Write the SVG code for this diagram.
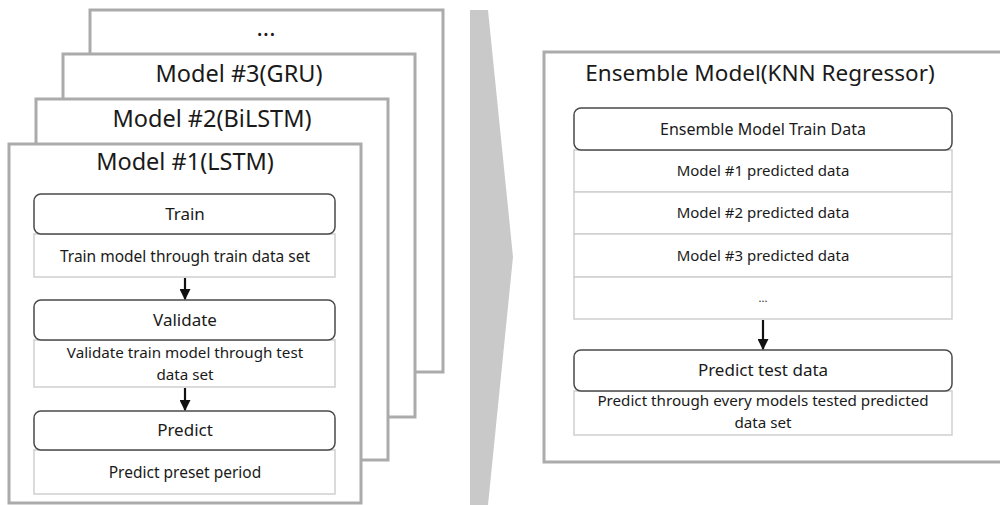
<svg xmlns="http://www.w3.org/2000/svg" width="1000" height="505" viewBox="0 0 1000 505">
<defs>
<style>
.frame{fill:#fff;stroke:#ababab;stroke-width:3}
.hdr{fill:#fff;stroke:#4a4a4a;stroke-width:1.5}
.desc{fill:#fff;stroke:#cfcfcf;stroke-width:1.5}
text{font-family:"Noto Sans","Liberation Sans",sans-serif;fill:#1a1a1a;text-anchor:middle}
.t1{font-size:23.5px}
.th{font-size:17px}
.td{font-size:15.5px}
.t2{font-size:15.2px}
.tr{font-size:15px}
.conn{stroke:#111;stroke-width:2.2;fill:none;marker-end:url(#ah)}
</style>
<marker id="ah" viewBox="0 0 10 10" refX="9" refY="5" markerWidth="5" markerHeight="5" orient="auto" markerUnits="strokeWidth">
<path d="M0,0 L10,5 L0,10 z" fill="#111"/>
</marker>
</defs>
<rect width="1000" height="505" fill="#fff"/>
<polygon points="470,10 488,10 513,257 488,505 470,505" fill="#c9c9c9"/>
<g id="model4">
<rect class="frame" x="90" y="10" width="353" height="362"/>
<text class="t1" x="266" y="36">...</text>
</g>
<g id="model3">
<rect class="frame" x="63" y="54" width="352" height="363"/>
<text class="t1" x="239" y="82">Model #3(GRU)</text>
</g>
<g id="model2">
<rect class="frame" x="36" y="99" width="352" height="361"/>
<text class="t1" x="212" y="127">Model #2(BiLSTM)</text>
</g>
<g id="model1">
<rect class="frame" x="9" y="144" width="352" height="359"/>
<text class="t1" x="185" y="170">Model #1(LSTM)</text>
</g>
<g id="train">
<rect class="desc" x="34" y="234" width="301" height="43"/>
<rect class="hdr" x="34" y="194" width="301" height="40" rx="7"/>
<text class="th" x="185" y="220">Train</text>
<text class="td" x="185" y="262">Train model through train data set</text>
</g>
<g id="validate">
<rect class="desc" x="34" y="340" width="301" height="47"/>
<rect class="hdr" x="34" y="300" width="301" height="40" rx="7"/>
<text class="th" x="185" y="326">Validate</text>
<text class="t2" x="185" y="358">Validate train model through test</text>
<text class="t2" x="185" y="379.5">data set</text>
</g>
<g id="predict">
<rect class="desc" x="34" y="450" width="301" height="44"/>
<rect class="hdr" x="34" y="411" width="301" height="39" rx="7"/>
<text class="th" x="185" y="436">Predict</text>
<text class="td" x="185" y="478">Predict preset period</text>
</g>
<g id="ensemble">
<rect class="frame" x="544" y="52" width="470" height="410"/>
<text style="font-size:22.5px" x="760" y="81">Ensemble Model(KNN Regressor)</text>
</g>
<g id="traindata">
<rect class="desc" x="574" y="150" width="378" height="42"/>
<rect class="desc" x="574" y="192" width="378" height="42"/>
<rect class="desc" x="574" y="234" width="378" height="43"/>
<rect class="desc" x="574" y="277" width="378" height="42"/>
<rect class="hdr" x="574" y="108" width="378" height="42" rx="7"/>
<text style="font-size:16px" x="763" y="135">Ensemble Model Train Data</text>
<text class="tr" x="763" y="176">Model #1 predicted data</text>
<text class="tr" x="763" y="218">Model #2 predicted data</text>
<text class="tr" x="763" y="261">Model #3 predicted data</text>
<text x="763" y="302" style="font-size:11px">...</text>
</g>
<g id="predicttest">
<rect class="desc" x="574" y="391" width="378" height="44"/>
<rect class="hdr" x="574" y="350" width="378" height="41" rx="7"/>
<text class="th" x="763" y="376">Predict test data</text>
<text class="t2" x="763" y="406">Predict through every models tested predicted</text>
<text class="t2" x="763" y="427.5">data set</text>
</g>
<g id="connectors">
<line class="conn" x1="185" y1="278" x2="185" y2="299"/>
<line class="conn" x1="185" y1="388" x2="185" y2="410"/>
<line class="conn" x1="763" y1="320" x2="763" y2="349"/>
</g>
</svg>
